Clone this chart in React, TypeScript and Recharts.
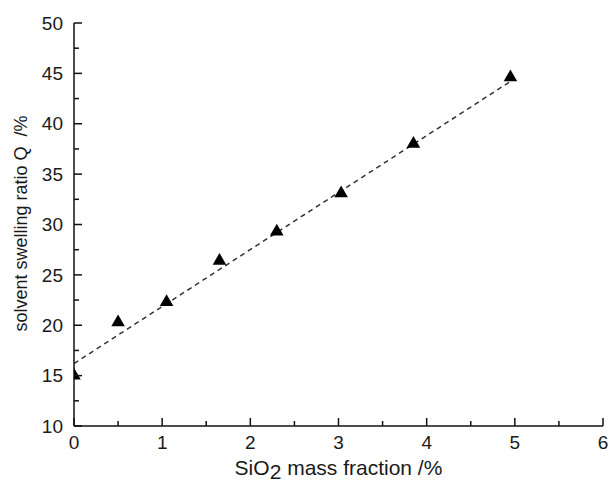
import React from 'react';
import { ComposedChart, Scatter, Line, XAxis, YAxis, ZAxis } from 'recharts';

const silicaFraction = [0, 0.5, 1.05, 1.65, 2.3, 3.03, 3.85, 4.95];
const swellingRatio = [15.0, 20.3, 22.3, 26.4, 29.3, 33.1, 38.0, 44.6];
const fitX = [0, 4.95];
const fitY = [16.2, 44.2];
const xTicks = [0, 0.5, 1, 1.5, 2, 2.5, 3, 3.5, 4, 4.5, 5, 5.5, 6];
const yTicks = [10, 12.5, 15, 17.5, 20, 22.5, 25, 27.5, 30, 32.5, 35, 37.5, 40, 42.5, 45, 47.5, 50];

const points = silicaFraction.map((x, i) => ({ x, y: swellingRatio[i] }));
const fitLine = fitX.map((x, i) => ({ x, y: fitY[i] }));

const FONT = 'Arial, "Liberation Sans", sans-serif';
const AXIS = '#111';
const TEXT = '#1a1a1a';
const X_MARGIN = 10;
const Y_MARGIN = 11;
const MAJOR = 8;
const MINOR = 5;

const XTick = (props: any) => {
  const { x, y, payload } = props;
  const v = payload.value;
  const major = Number.isInteger(v);
  const axisY = y - X_MARGIN;
  return (
    <g>
      <line x1={x} y1={axisY} x2={x} y2={axisY - (major ? MAJOR : MINOR)} stroke={AXIS} strokeWidth={1.5} />
      {major && (
        <text x={x} y={y} dy="0.71em" textAnchor="middle" fontFamily={FONT} fontSize={19} fill={TEXT}>
          {v}
        </text>
      )}
    </g>
  );
};

const YTick = (props: any) => {
  const { x, y, payload } = props;
  const v = payload.value;
  const major = v % 5 === 0;
  const axisX = x + Y_MARGIN;
  return (
    <g>
      <line x1={axisX} y1={y} x2={axisX + (major ? MAJOR : MINOR)} y2={y} stroke={AXIS} strokeWidth={1.5} />
      {major && (
        <text x={x} y={y} dy="0.355em" textAnchor="end" fontFamily={FONT} fontSize={19} fill={TEXT}>
          {v}
        </text>
      )}
    </g>
  );
};

const XTitle = (props: any) => {
  const vb = props.viewBox || {};
  const cx = vb.x + vb.width / 2;
  return (
    <text x={cx} y={vb.y + 49} textAnchor="middle" fontFamily={FONT} fontSize={21} fill={TEXT}>
      SiO<tspan dy={4}>2</tspan>
      <tspan dy={-4}> mass fraction /%</tspan>
    </text>
  );
};

const YTitle = (props: any) => {
  const vb = props.viewBox || {};
  const cy = vb.y + vb.height / 2 - 1;
  const x = 27;
  return (
    <text
      x={x}
      y={cy}
      transform={`rotate(-90 ${x} ${cy})`}
      textAnchor="middle"
      fontFamily={FONT}
      fontSize={18}
      fill={TEXT}
    >
      {'solvent swelling ratio Q\u00A0\u00A0/%'}
    </text>
  );
};

export default function App() {
  return (
    <div style={{ position: 'absolute', left: 0, top: 0, background: '#fff' }}>
      <ComposedChart width={609} height={483} margin={{ top: 23, right: 6, bottom: 0, left: 0 }}>
        <XAxis
          xAxisId="main"
          dataKey="x"
          type="number"
          domain={[0, 6]}
          ticks={xTicks}
          interval={0}
          allowDataOverflow
          height={57}
          tickSize={0}
          tickMargin={X_MARGIN}
          tickLine={false}
          stroke={AXIS}
          strokeWidth={1.5}
          tick={<XTick />}
          label={<XTitle />}
        />
        <XAxis
          xAxisId="top"
          orientation="top"
          type="number"
          domain={[0, 6]}
          height={0}
          tick={false}
          tickLine={false}
          stroke={AXIS}
          strokeWidth={1.5}
        />
        <YAxis
          yAxisId="main"
          type="number"
          domain={[10, 50]}
          ticks={yTicks}
          interval={0}
          allowDataOverflow
          width={74}
          tickSize={0}
          tickMargin={Y_MARGIN}
          tickLine={false}
          stroke={AXIS}
          strokeWidth={1.5}
          tick={<YTick />}
          label={<YTitle />}
        />
        <YAxis
          yAxisId="right"
          orientation="right"
          type="number"
          domain={[10, 50]}
          width={0}
          tick={false}
          tickLine={false}
          stroke={AXIS}
          strokeWidth={1.5}
        />
        <ZAxis range={[80, 80]} />
        <Line
          xAxisId="main"
          yAxisId="main"
          data={fitLine}
          dataKey="y"
          stroke="#333"
          strokeWidth={1.5}
          strokeDasharray="5 4"
          dot={false}
          activeDot={false}
          isAnimationActive={false}
        />
        <Scatter
          xAxisId="main"
          yAxisId="main"
          data={points}
          dataKey="y"
          shape="triangle"
          fill="#000"
          isAnimationActive={false}
        />
      </ComposedChart>
    </div>
  );
}
